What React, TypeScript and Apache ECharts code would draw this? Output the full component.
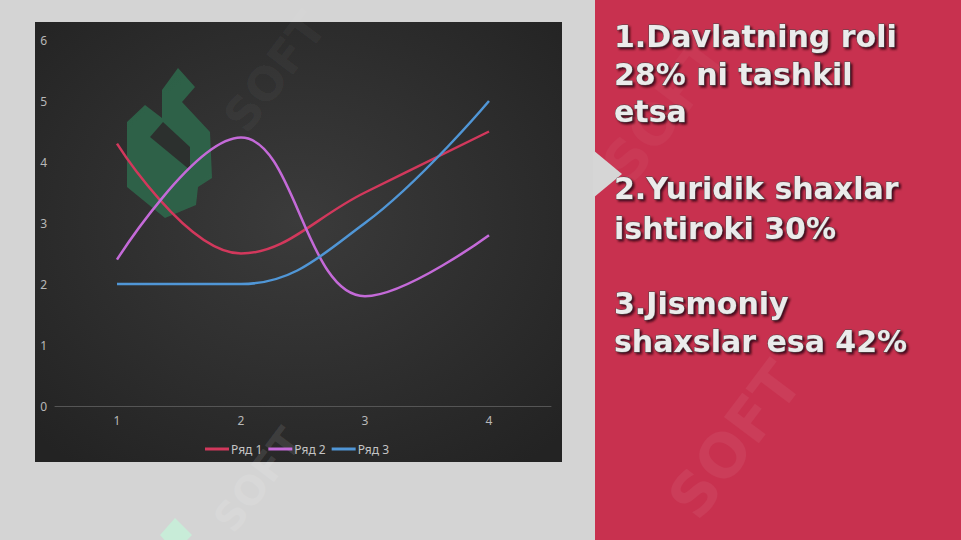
import React, { useEffect, useRef } from "react";
import * as echarts from "echarts";

const categories = ["1", "2", "3", "4"];
const seriesNames = ["Ряд 1", "Ряд 2", "Ряд 3"];
const row1 = [4.3, 2.5, 3.5, 4.5];
const row2 = [2.4, 4.4, 1.8, 2.8];
const row3 = [2, 2, 3, 5];
const seriesColors = ["#d2385c", "#c46ad8", "#5096d6"];
const textLines = [
  { t: "1.Davlatning roli", y: 51 },
  { t: "28% ni tashkil", y: 89 },
  { t: "etsa", y: 126 },
  { t: "2.Yuridik shaxlar", y: 203 },
  { t: "ishtiroki 30%", y: 243 },
  { t: "3.Jismoniy", y: 318 },
  { t: "shaxslar esa 42%", y: 356 },
];

export default function App() {
  const ref = useRef<HTMLDivElement>(null);
  useEffect(() => {
    if (!ref.current) return;
    const chart = echarts.init(ref.current, undefined, { renderer: "svg" });
    const values = [row1, row2, row3];
    const wm = (x: number, y: number, a: number, size: number) => ({
      type: "text", z: -16, x, y, rotation: Math.PI / 3.4,
      style: { text: "SOFT", font: `bold ${size}px 'DejaVu Sans'`, fill: `rgba(255,255,255,${a})`, align: "center", verticalAlign: "middle" },
    });
    const graphic: any[] = [
      { type: "rect", z: -20, shape: { x: 0, y: 0, width: 961, height: 540 }, style: { fill: "#d4d4d4" } },
      {
        type: "rect", z: -19, shape: { x: 35, y: 22, width: 527, height: 440 },
        style: {
          fill: new echarts.graphic.RadialGradient(0.5, 0.45, 0.7, [
            { offset: 0, color: "#3b3b3b" },
            { offset: 1, color: "#232323" },
          ]),
        },
      },
      { type: "rect", z: -19, shape: { x: 595, y: 0, width: 366, height: 540 }, style: { fill: "#c8314f" } },
      { type: "polygon", z: -18, shape: { points: [[593, 150], [622, 174], [593, 198]] }, style: { fill: "#d6d6d6" } },
      {
        type: "polygon", z: -17,
        shape: { points: [[178, 68], [195, 87], [182, 102], [210, 132], [212, 178], [198, 187], [196, 205], [165, 218], [127, 187], [127, 122], [145, 105], [162, 118], [162, 90]] },
        style: { fill: "#2e6a4c", opacity: 0.85 },
      },
      {
        type: "polygon", z: -16,
        shape: { points: [[150, 137], [163, 122], [190, 147], [190, 170]] },
        style: { fill: "#2c302e" },
      },
      wm(275, 72, 0.05, 46),
      wm(735, 440, 0.06, 60),
      wm(665, 110, 0.04, 56),
      wm(258, 480, 0.1, 40),
      { type: "polygon", z: -15, shape: { points: [[160, 535], [175, 518], [192, 535], [175, 552]] }, style: { fill: "#c8ecd8" } },
    ];
    textLines.forEach((l) => {
      graphic.push({
        type: "text", z: 10, x: 614, y: l.y,
        style: {
          text: l.t,
          font: "bold 30px 'DejaVu Sans'",
          fill: "#ebebeb",
          align: "left",
          verticalAlign: "bottom",
          stroke: "#4a4a4a",
          lineWidth: 0.8,
          textShadowColor: "rgba(40,0,10,0.8)",
          textShadowBlur: 2,
          textShadowOffsetX: 2,
          textShadowOffsetY: 2,
        },
      });
    });
    chart.setOption({
      animation: false,
      graphic,
      legend: {
        data: seriesNames,
        left: 205,
        top: 443,
        itemWidth: 24,
        itemHeight: 3,
        itemGap: 6,
        icon: "rect",
        textStyle: { color: "#c4c4c4", fontSize: 12, fontFamily: "'Noto Sans', sans-serif", padding: [0, 0, 0, -3] },
        padding: [0, 0, 0, 0],
      },
      grid: { left: 55, right: 410, top: 40, bottom: 134 },
      xAxis: {
        type: "category",
        data: categories,
        boundaryGap: true,
        axisLine: { show: true, lineStyle: { color: "#555", width: 1 } },
        axisTick: { show: false },
        axisLabel: { color: "#b8b8b8", fontSize: 12, margin: 8, fontFamily: "'Noto Sans', sans-serif" },
      },
      yAxis: {
        type: "value",
        min: 0,
        max: 6,
        interval: 1,
        splitLine: { show: false },
        axisLine: { show: false },
        axisTick: { show: false },
        axisLabel: { color: "#b8b8b8", fontSize: 12, margin: 8, fontFamily: "'Noto Sans', sans-serif" },
      },
      series: seriesNames.map((name, i) => ({
        name,
        type: "line",
        data: values[i],
        smooth: 0.4,
        showSymbol: false,
        symbol: "none",
        lineStyle: { color: seriesColors[i], width: 2.5 },
        itemStyle: { color: seriesColors[i] },
      })),
    });
    return () => chart.dispose();
  }, []);
  return <div ref={ref} style={{ position: "absolute", left: 0, top: 0, width: 961, height: 540 }} />;
}
